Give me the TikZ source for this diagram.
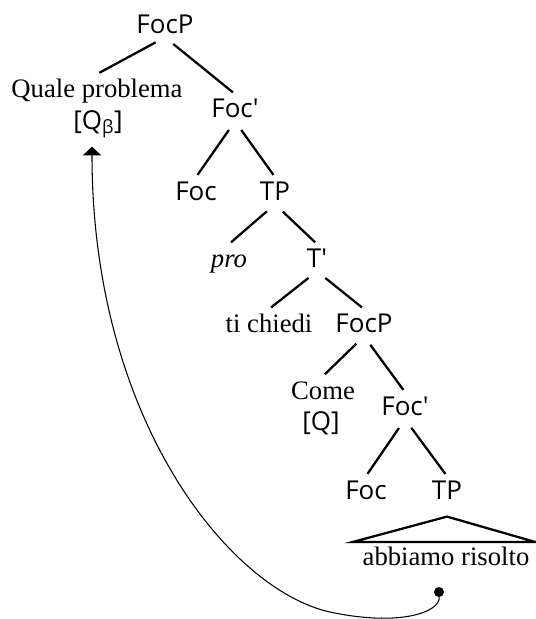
\documentclass[tikz,border=0pt]{standalone}
\usepackage{fontspec}
\setmainfont{Liberation Serif}
\setsansfont{Open Sans}
\usetikzlibrary{arrows.meta}

\begin{document}
\begin{tikzpicture}[
    x=0.75pt, y=-0.75pt,
    cat/.style={inner sep=3pt, anchor=base, text height=14pt, text depth=0pt, font=\fontsize{19.5}{23}\sffamily},
    word/.style={inner sep=3pt, anchor=base, text height=14pt, text depth=0pt, font=\fontsize{20}{24}\selectfont},
    branch/.style={line width=1.7pt, shorten <=8pt, shorten >=2pt},
    move/.style={-{Triangle[width=13.5pt, length=6.5pt]}, line width=0.8pt, shorten >=10pt}
]
\useasboundingbox (0,0) rectangle (536,619);

% Tree nodes, placed by baseline
\node[cat]  (focp)     at (165,33)  {FocP};
\node[word] (quale)    at (97,97)   {Quale problema};
\node[cat]  (qfeat)    at (98,129)  {[Q\textsubscript{β}]};
\node[cat]  (focbar)   at (235,117) {Foc\textquotesingle};
\node[cat]  (foc)      at (196,200) {Foc};
\node[cat]  (tp)       at (275,200) {TP};
\node[word] (pro)      at (229,267) {\textit{pro}};
\node[cat]  (tbar)     at (317,267) {T\textquotesingle};
\node[word] (tichiedi) at (269,332) {ti chiedi};
\node[cat]  (focpb)    at (364,332) {FocP};
\node[word] (come)     at (323,399) {Come};
\node[cat]  (cfeat)    at (321,430) {[Q]};
\node[cat]  (focbarb)  at (405,415) {Foc\textquotesingle};
\node[cat]  (focb)     at (366,499) {Foc};
\node[cat]  (tpb)      at (447,499) {TP};
\node[word] (abb)      at (446,565) {abbiamo risolto};
\node[circle, fill, inner sep=0pt, minimum size=7.5pt] (trace) at (439,592) {};

% Branches
\draw[branch] (focp.south) -- (quale.north);
\draw[branch] (focp.south) -- (focbar.north);
\draw[branch] (focbar.south) -- (foc.north);
\draw[branch] (focbar.south) -- (tp.north);
\draw[branch] (tp.south) -- (pro.north);
\draw[branch] (tp.south) -- (tbar.north);
\draw[branch] (tbar.south) -- (tichiedi.north);
\draw[branch] (tbar.south) -- (focpb.north);
\draw[branch] (focpb.south) -- (come.north);
\draw[branch] (focpb.south) -- (focbarb.north);
\draw[branch] (focbarb.south) -- (focb.north);
\draw[branch] (focbarb.south) -- (tpb.north);
\draw[line width=1.7pt] ([yshift=-10pt]tpb.south) -- ([xshift=-4.5pt]abb.north west) -- ([xshift=1.5pt]abb.north east) -- cycle;

% Movement
\draw[move] (trace) .. controls (440,612) and (400,627) .. (330,612)
    .. controls (230,590) and (92,420) .. ([xshift=-4.5pt]qfeat.south);

\end{tikzpicture}
\end{document}
